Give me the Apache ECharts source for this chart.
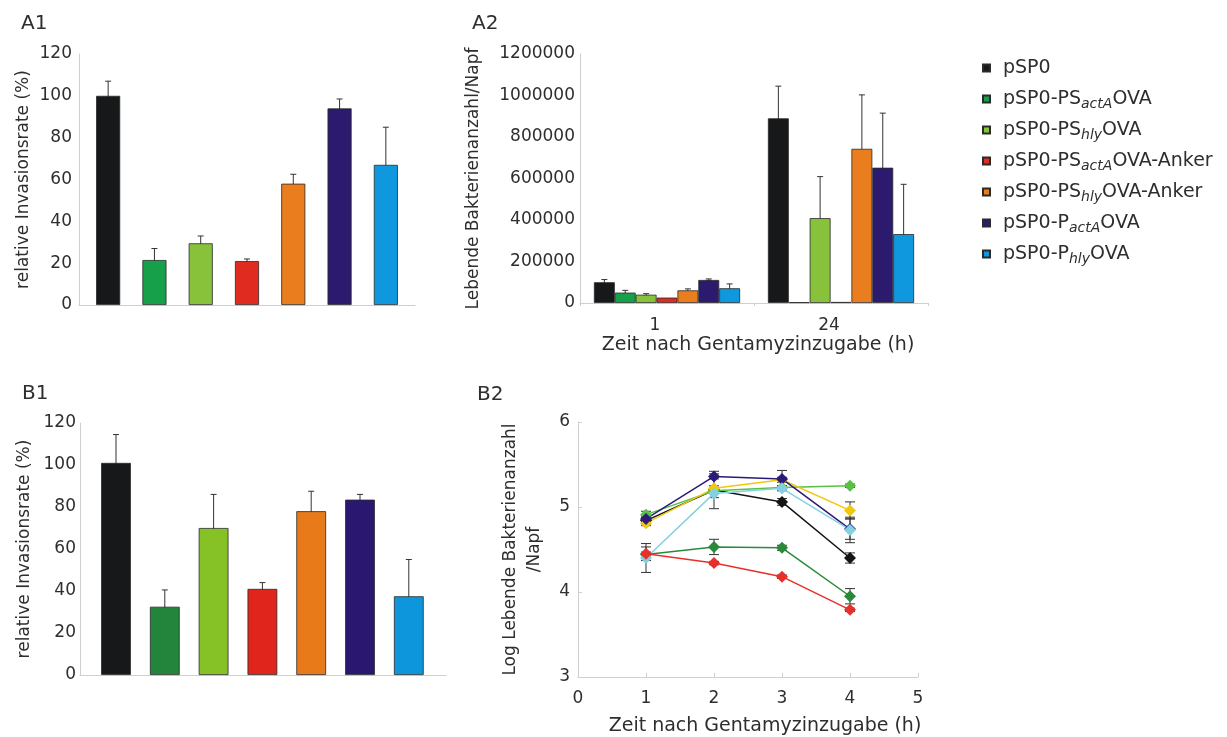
<!DOCTYPE html>
<html>
<head>
<meta charset="utf-8">
<script src="https://cdn.jsdelivr.net/npm/echarts@6/dist/echarts.min.js"></script>
<style>
html,body{margin:0;padding:0;background:#fff;}
#c{width:1227px;height:737px;}
</style>
</head>
<body>
<div id="c"></div>
<script>
// ---------- data ----------
const constructs = ['pSP0','pSP0-PS(actA)OVA','pSP0-PS(hly)OVA','pSP0-PS(actA)OVA-Anker','pSP0-PS(hly)OVA-Anker','pSP0-P(actA)OVA','pSP0-P(hly)OVA'];

// A1: relative invasion rate (%)
const a1Values = [100, 21.5, 29.5, 21, 58, 94, 67];
const a1Err    = [7, 5.5, 3.5, 1, 4.5, 4.5, 18];

// A2: live bacteria per well at 1 h and 24 h
const a2Times = ['1', '24'];
const a2Values = [
  [100000, 890000],
  [50000, 4000],
  [40000, 409000],
  [26000, 5000],
  [61000, 743000],
  [111000, 652000],
  [71000, 332000]
];
const a2Err = [
  [13000, 155000],
  [11000, 0],
  [5000, 200000],
  [0, 0],
  [7000, 260000],
  [5000, 263000],
  [21000, 240000]
];

// B1: relative invasion rate (%)
const b1Values = [101, 32.5, 70, 41, 78, 83.5, 37.5];
const b1Err    = [13.5, 8, 16, 3, 9.5, 2.5, 17.5];

// B2: log live bacteria per well over time (h)
const b2Times = [1, 2, 3, 4];
const b2Values = [
  [4.84, 5.20, 5.06, 4.40],   // pSP0
  [4.44, 4.53, 4.52, 3.95],   // PS actA OVA
  [4.91, 5.19, 5.23, 5.25],   // PS hly OVA
  [4.45, 4.34, 4.18, 3.79],   // PS actA OVA-Anker
  [4.81, 5.22, 5.32, 4.96],   // PS hly OVA-Anker
  [4.86, 5.36, 5.33, 4.74],   // P actA OVA
  [4.40, 5.16, 5.22, 4.73]    // P hly OVA
];
const b2Err = [
  [0.04, 0.22, 0.04, 0.06],
  [0.03, 0.09, 0.03, 0.09],
  [0.04, 0.02, 0.02, 0.02],
  [0.08, 0.02, 0.02, 0.02],
  [0.03, 0.03, 0.03, 0.10],
  [0.03, 0.03, 0.10, 0.12],
  [0.17, 0.05, 0.03, 0.15]
];

// ---------- styles ----------
const FONT = 'DejaVu Sans';
const TXT = '#2e2e2e';
const AX = '#cfcfcf';
const colA = ['#17181a', '#16a04a', '#88c23a', '#e02b20', '#ea7e1e', '#2b1a6e', '#0f98dd'];
const colB1 = ['#17181a', '#23843c', '#86c225', '#e0261c', '#e87a1a', '#2a1870', '#0d96dc'];
const colB2 = ['#151515', '#2a8a3a', '#58c044', '#e8302a', '#f0c810', '#2b1a78', '#84d0e2'];
const b2Order = [0, 1, 2, 4, 5, 6, 3];

function legendLabel(name) {
  return name.replace(/\((\w+)\)/, '{s|$1}');
}

function errRender(groupCount, cap) {
  return function (params, api) {
    const x = api.value(0), y = api.value(1), sd = api.value(2), j = api.value(3);
    if (!sd) return null;
    const c = api.coord([x, y]);
    let cx = c[0];
    if (groupCount > 1) {
      const catW = api.size([1, 0])[0];
      const groupW = catW * 0.84;
      const bw = groupW / groupCount;
      cx += -groupW / 2 + bw * (j + 0.5);
    }
    const top = api.coord([x, y + sd])[1];
    const bot = api.coord([x, y - sd])[1];
    const st = { stroke: '#333', lineWidth: 1 };
    return {
      type: 'group',
      children: [
        { type: 'line', shape: { x1: cx, y1: top, x2: cx, y2: bot }, style: st },
        { type: 'line', shape: { x1: cx - cap / 2, y1: top, x2: cx + cap / 2, y2: top }, style: st },
        { type: 'line', shape: { x1: cx - cap / 2, y1: bot, x2: cx + cap / 2, y2: bot }, style: st }
      ]
    };
  };
}

const labelStyle = { color: TXT, fontSize: 17, fontFamily: FONT };
const nameStyle = { color: TXT, fontSize: 17, fontFamily: FONT };
const panelStyle = { fontSize: 20, fontWeight: 'normal', color: TXT, fontFamily: FONT };

const series = [];

// A1 bars
series.push({
  type: 'bar', xAxisIndex: 0, yAxisIndex: 0, barWidth: '52%', z: 3,
  data: a1Values.map((v, i) => ({ value: v, itemStyle: { color: colA[i] } })),
  itemStyle: { borderColor: '#2a2a2a', borderWidth: 0.8 }
});
series.push({
  type: 'custom', coordinateSystem: 'cartesian2d', xAxisIndex: 0, yAxisIndex: 0, z: 1,
  renderItem: errRender(1, 6),
  data: a1Values.map((v, i) => [i, v, a1Err[i], 0])
});

// A2 grouped bars
constructs.forEach((name, j) => {
  series.push({
    type: 'bar', name: name, xAxisIndex: 1, yAxisIndex: 1, z: 3,
    barGap: '0%', barCategoryGap: '16%',
    itemStyle: { color: colA[j], borderColor: '#2a2a2a', borderWidth: 0.8 },
    data: a2Values[j]
  });
});
series.push({
  type: 'custom', coordinateSystem: 'cartesian2d', xAxisIndex: 1, yAxisIndex: 1, z: 1,
  renderItem: errRender(7, 6),
  data: a2Values.flatMap((vals, j) => vals.map((v, i) => [i, v, a2Err[j][i], j]))
});

// B1 bars
series.push({
  type: 'bar', xAxisIndex: 2, yAxisIndex: 2, barWidth: '61%', z: 3,
  data: b1Values.map((v, i) => ({ value: v, itemStyle: { color: colB1[i] } })),
  itemStyle: { borderColor: '#2a2a2a', borderWidth: 0.8 }
});
series.push({
  type: 'custom', coordinateSystem: 'cartesian2d', xAxisIndex: 2, yAxisIndex: 2, z: 1,
  renderItem: errRender(1, 6),
  data: b1Values.map((v, i) => [i, v, b1Err[i], 0])
});

// B2 error bars + lines
series.push({
  type: 'custom', coordinateSystem: 'cartesian2d', xAxisIndex: 3, yAxisIndex: 3, z: 1,
  renderItem: errRender(1, 10),
  data: b2Values.flatMap((vals, j) => vals.map((v, i) => [b2Times[i], v, b2Err[j][i], 0]))
});
b2Order.forEach((j) => {
  series.push({
    type: 'line', name: constructs[j], xAxisIndex: 3, yAxisIndex: 3, z: 3,
    symbol: 'diamond', symbolSize: 12,
    lineStyle: { color: colB2[j], width: 1.5 },
    itemStyle: { color: colB2[j] },
    data: b2Times.map((t, i) => [t, b2Values[j][i]])
  });
});

const gridBase = { containLabel: false, outerBoundsMode: 'none' };

const option = {
  animation: false,
  backgroundColor: '#fff',
  textStyle: { fontFamily: FONT, color: TXT },
  title: [
    { text: 'A1', left: 16, top: 9, textStyle: panelStyle },
    { text: 'A2', left: 467, top: 9, textStyle: panelStyle },
    { text: 'B1', left: 17, top: 379, textStyle: panelStyle },
    { text: 'B2', left: 472, top: 380, textStyle: panelStyle }
  ],
  legend: {
    data: constructs,
    orient: 'vertical',
    left: 982, top: 56, padding: 0,
    icon: 'rect', itemWidth: 7, itemHeight: 7, itemGap: 7,
    formatter: legendLabel,
    selectedMode: false,
    textStyle: {
      fontSize: 19, lineHeight: 24, color: TXT, fontFamily: FONT, padding: [0, 0, 0, 8],
      rich: {
        s: { fontSize: 14, lineHeight: 14, fontStyle: 'italic', verticalAlign: 'bottom', color: TXT, fontFamily: FONT }
      }
    }
  },
  grid: [
    Object.assign({ left: 85, top: 54, width: 324, height: 251 }, gridBase),
    Object.assign({ left: 580, top: 54, width: 348, height: 249 }, gridBase),
    Object.assign({ left: 91.6, top: 423, width: 341.6, height: 252 }, gridBase),
    Object.assign({ left: 578, top: 422, width: 340, height: 255 }, gridBase),
    Object.assign({ left: 79, top: 54, width: 336, height: 251 }, gridBase),
    Object.assign({ left: 80, top: 423, width: 366, height: 252 }, gridBase)
  ],
  xAxis: [
    { gridIndex: 0, type: 'category', data: constructs, axisLine: { show: false }, axisTick: { show: false }, axisLabel: { show: false } },
    { gridIndex: 1, type: 'category', data: a2Times,
      axisLine: { lineStyle: { color: AX } }, axisTick: { show: true, length: 3, lineStyle: { color: AX } },
      axisLabel: Object.assign({ margin: 14, padding: [0, 24, 0, 0] }, labelStyle),
      name: 'Zeit nach Gentamyzinzugabe (h)', nameLocation: 'middle', nameGap: 33,
      nameTextStyle: Object.assign({}, nameStyle, { fontSize: 19, padding: [0, 0, 0, 8] }) },
    { gridIndex: 2, type: 'category', data: constructs, axisLine: { show: false }, axisTick: { show: false }, axisLabel: { show: false } },
    { gridIndex: 3, type: 'value', min: 0, max: 5, interval: 1,
      axisLine: { show: true, lineStyle: { color: AX } }, axisTick: { show: true, inside: true, length: 4, lineStyle: { color: AX } },
      splitLine: { show: false },
      axisLabel: Object.assign({ margin: 13 }, labelStyle),
      name: 'Zeit nach Gentamyzinzugabe (h)', nameLocation: 'middle', nameGap: 40,
      nameTextStyle: Object.assign({}, nameStyle, { fontSize: 19, padding: [0, 0, 0, 34] }) },
    { gridIndex: 4, type: 'value', min: 0, max: 1, axisLine: { show: true, onZero: false, lineStyle: { color: AX } }, axisTick: { show: false }, axisLabel: { show: false }, splitLine: { show: false } },
    { gridIndex: 5, type: 'value', min: 0, max: 1, axisLine: { show: true, onZero: false, lineStyle: { color: AX } }, axisTick: { show: false }, axisLabel: { show: false }, splitLine: { show: false } }
  ],
  yAxis: [
    { gridIndex: 0, type: 'value', min: 0, max: 120, interval: 20, offset: 6,
      axisLine: { show: true, lineStyle: { color: AX } }, axisTick: { show: false }, splitLine: { show: false },
      axisLabel: Object.assign({ margin: 7 }, labelStyle),
      name: 'relative Invasionsrate (%)', nameLocation: 'middle', nameGap: 47, nameTextStyle: nameStyle },
    { gridIndex: 1, type: 'value', min: 0, max: 1200000, interval: 200000,
      axisLine: { show: true, lineStyle: { color: AX } }, axisTick: { show: false }, splitLine: { show: false },
      axisLabel: Object.assign({ margin: 5, formatter: (v) => String(v) }, labelStyle),
      name: 'Lebende Bakterienanzahl/Napf', nameLocation: 'middle', nameGap: 98, nameTextStyle: nameStyle },
    { gridIndex: 2, type: 'value', min: 0, max: 120, interval: 20, offset: 11.6,
      axisLine: { show: true, lineStyle: { color: AX } }, axisTick: { show: false }, splitLine: { show: false },
      axisLabel: Object.assign({ margin: 4 }, labelStyle),
      name: 'relative Invasionsrate (%)', nameLocation: 'middle', nameGap: 47, nameTextStyle: nameStyle },
    { gridIndex: 3, type: 'value', min: 3, max: 6, interval: 1,
      axisLine: { show: true, lineStyle: { color: AX } }, axisTick: { show: true, inside: true, length: 4, lineStyle: { color: AX } }, splitLine: { show: false },
      axisLabel: Object.assign({ margin: 8 }, labelStyle),
      name: 'Log Lebende Bakterienanzahl\n/Napf', nameLocation: 'middle', nameGap: 31,
      nameTextStyle: Object.assign({}, nameStyle, { lineHeight: 24 }) },
    { gridIndex: 4, type: 'value', show: false, min: 0, max: 1 },
    { gridIndex: 5, type: 'value', show: false, min: 0, max: 1 }
  ],
  series: series
};

const chart = echarts.init(document.getElementById('c'), null, { renderer: 'canvas' });
chart.setOption(option);
</script>
</body>
</html>
